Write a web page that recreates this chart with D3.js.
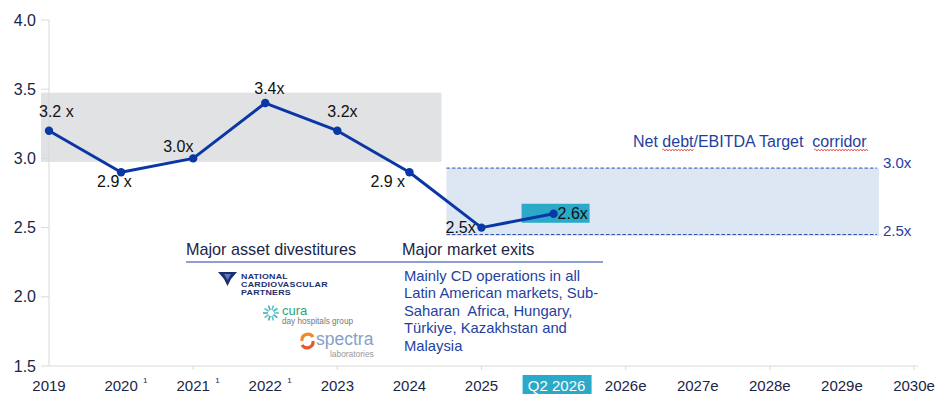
<!DOCTYPE html>
<html><head><meta charset="utf-8">
<script src="https://cdn.jsdelivr.net/npm/d3@7"></script>
<style>
body{margin:0;background:#fff;}
svg{display:block;font-family:"Liberation Sans",Arial,sans-serif;}
text{white-space:pre;}
</style></head>
<body><svg id="c" width="947" height="414"></svg>
<script>
// ---- data ----
const categories = ["2019","2020","2021","2022","2023","2024","2025","Q2 2026","2026e","2027e","2028e","2029e","2030e"];
const footnoted = ["2020","2021","2022"];
const leverage = [3.2, 2.9, 3.0, 3.4, 3.2, 2.9, 2.5, 2.6];
const leverageLabels = ["3.2 x","2.9 x","3.0x","3.4x","3.2x","2.9 x","2.5x","2.6x"];
const yTicks = [1.5, 2.0, 2.5, 3.0, 3.5, 4.0];
const historicBand = [2.975, 3.475];
const corridorBand = [2.44, 2.93];
const corridorLines = [2.93, 2.45];
const corridorLabels = ["3.0x", "2.5x"];
const corridorTitle = "Net debt/EBITDA Target  corridor";
const divestHeader = "Major asset divestitures";
const exitsHeader = "Major market exits";
const exitsText = ["Mainly CD operations in all","Latin American markets, Sub-","Saharan  Africa, Hungary,","Türkiye, Kazakhstan and","Malaysia"];
const ncpLines = ["NATIONAL","CARDIOVASCULAR","PARTNERS"];

// ---- layout (not data) ----
const labelOffsets = [[-10,-14],[-24,15],[-30,-6],[-11,-9],[-10,-14],[-39,15],[-36,5],[4,5]];

const svg = d3.select("#c");
const x = d3.scalePoint().domain(categories).range([49, 914]);
const y = d3.scaleLinear().domain([1.5, 4.0]).range([366, 20]);
const step = x.step();

const navy = "#1b2546", blue = "#1f3fa0", lineBlue = "#0a37a5", teal = "#2aa9c9";

// bands
const gx0 = x("2019") - 8, gx1 = x("2024") + step/2 - 4;
svg.append("rect").attr("x", gx0).attr("y", y(historicBand[1]))
  .attr("width", gx1 - gx0).attr("height", y(historicBand[0]) - y(historicBand[1]))
  .attr("fill", "#e1e2e4");
const cx0 = x("2024") + step/2 + 1, cx1 = x("2029e") + step/2 + 1;
svg.append("rect").attr("x", cx0).attr("y", y(corridorBand[1]))
  .attr("width", cx1 - cx0).attr("height", y(corridorBand[0]) - y(corridorBand[1]))
  .attr("fill", "#dde7f3");
corridorLines.forEach((v, i) => {
  svg.append("line").attr("x1", cx0).attr("x2", cx1 - 2).attr("y1", y(v)).attr("y2", y(v))
    .attr("stroke", "#2a4fb8").attr("stroke-width", 1).attr("stroke-dasharray", "3.5,2");
  svg.append("text").attr("x", cx1 + 4).attr("y", y(v) + (i === 0 ? 0 : 1))
    .attr("font-size", 15).attr("fill", blue).text(corridorLabels[i]);
});
svg.append("text").attr("x", 633).attr("y", 147).attr("font-size", 16).attr("fill", blue).text(corridorTitle);
// spell-check squiggles
function squiggle(xa, xb, yy){
  let d = `M${xa},${yy}`; let up = true;
  for (let xx = xa + 1.5; xx <= xb; xx += 1.5){ d += `L${xx},${yy + (up ? -1 : 1)}`; up = !up; }
  svg.append("path").attr("d", d).attr("fill","none").attr("stroke","#e23b3b").attr("stroke-width",0.8);
}
squiggle(662, 694, 150); squiggle(814, 868, 150);

// Y axis
svg.append("line").attr("x1", 49).attr("x2", 49).attr("y1", y(4)).attr("y2", y(1.5)).attr("stroke", "#d9d9d9");
const yg = svg.append("g");
yTicks.forEach(t => {
  yg.append("line").attr("x1", 41).attr("x2", 49).attr("y1", y(t)).attr("y2", y(t)).attr("stroke", "#d9d9d9");
  yg.append("text").attr("x", 36).attr("y", y(t) + 5.5).attr("text-anchor", "end")
    .attr("font-size", 16).attr("fill", navy).text(t.toFixed(1));
});

// X axis
svg.append("line").attr("x1", 49).attr("x2", 918).attr("y1", 366).attr("y2", 366).attr("stroke", "#d9d9d9");
categories.forEach((c, i) => {
  if (i % 2 === 0 && i > 0) svg.append("line").attr("x1", x(c)).attr("x2", x(c)).attr("y1", 366).attr("y2", 370).attr("stroke", "#d9d9d9");
});
// Q2 highlight on axis
svg.append("rect").attr("x", x("Q2 2026") - 31).attr("y", 375).attr("width", 69).attr("height", 19).attr("fill", teal);
categories.forEach(c => {
  svg.append("text").attr("x", x(c) + (c === "Q2 2026" ? 3 : 0)).attr("y", 390.5)
    .attr("text-anchor", "middle").attr("font-size", 15)
    .attr("fill", c === "Q2 2026" ? "#fff" : navy).text(c);
  if (footnoted.includes(c)) {
    svg.append("text").attr("x", x(c) + 22).attr("y", 383).attr("font-size", 8).attr("fill", navy).text("1");
  }
});

// Q2 2026 label highlight
const q = leverage.length - 1;
svg.append("rect").attr("x", x(categories[q]) - 32).attr("y", y(leverage[q]) - 10).attr("width", 68).attr("height", 19).attr("fill", teal);

// line
const pts = leverage.map((v, i) => [x(categories[i]), y(v)]);
svg.append("path").attr("d", d3.line()(pts)).attr("fill", "none").attr("stroke", lineBlue).attr("stroke-width", 3).attr("stroke-linejoin","round");
svg.selectAll("circle.pt").data(pts).join("circle").attr("class","pt")
  .attr("cx", d => d[0]).attr("cy", d => d[1]).attr("r", 4.2).attr("fill", lineBlue);
leverageLabels.forEach((l, i) => {
  svg.append("text").attr("x", pts[i][0] + labelOffsets[i][0]).attr("y", pts[i][1] + labelOffsets[i][1])
    .attr("font-size", 16).attr("fill", "#111").text(l);
});

// annotation block
svg.append("text").attr("x", 186).attr("y", 255).attr("font-size", 16.2).attr("fill", navy).text(divestHeader);
svg.append("text").attr("x", 402).attr("y", 255).attr("font-size", 16.2).attr("fill", navy).text(exitsHeader);
svg.append("line").attr("x1", 186).attr("x2", 603).attr("y1", 262).attr("y2", 262).attr("stroke", blue).attr("stroke-width", 1.2);
exitsText.forEach((t, i) => {
  svg.append("text").attr("x", 404).attr("y", 281 + i * 17.4).attr("font-size", 14.8).attr("fill", blue).text(t);
});

// logos (approximate)
const lg = svg.append("g");
// NCP
lg.append("path").attr("d", "M218,272 L237,272 L231,279 L227.5,286 L224,279 Z").attr("fill", "#1d2f6f");
lg.append("path").attr("d", "M224,274 L231,274 L227.5,280 Z").attr("fill", "#5b78b8");
ncpLines.forEach((t, i) => {
  lg.append("text").attr("transform", `translate(241,${279 + i * 7.8}) scale(1.3,1)`)
    .attr("font-size", 6.8).attr("font-weight", "bold").attr("letter-spacing", 0.2)
    .attr("fill", "#1d2f6f").text(t);
});
// Cura
for (let k = 0; k < 10; k++) {
  const a = k * Math.PI / 5, r0 = 3, r1 = 8;
  lg.append("line").attr("x1", 271 + r0*Math.cos(a)).attr("y1", 313 + r0*Math.sin(a))
    .attr("x2", 271 + r1*Math.cos(a)).attr("y2", 313 + r1*Math.sin(a))
    .attr("stroke", k % 2 ? "#3fb6a0" : "#5fc0dc").attr("stroke-width", 1.6);
}
lg.append("text").attr("x", 282).attr("y", 315).attr("font-size", 13).attr("fill", "#2aa57a").text("cura");
lg.append("text").attr("x", 282).attr("y", 324).attr("font-size", 8.2).attr("fill", "#777").text("day hospitals group");
// Spectra
lg.append("path").attr("d", "M302,341 A6,6 0 0 1 313,337").attr("fill","none").attr("stroke","#f08a24").attr("stroke-width",3.2);
lg.append("path").attr("d", "M313,341 A6,6 0 0 1 302,345").attr("fill","none").attr("stroke","#e8572a").attr("stroke-width",3.2);
lg.append("text").attr("x", 316).attr("y", 345).attr("font-size", 17.5).attr("fill", "#86a0c8").text("spectra");
lg.append("text").attr("x", 330).attr("y", 357).attr("font-size", 8.4).attr("fill", "#999").text("laboratories");
</script></body></html>
